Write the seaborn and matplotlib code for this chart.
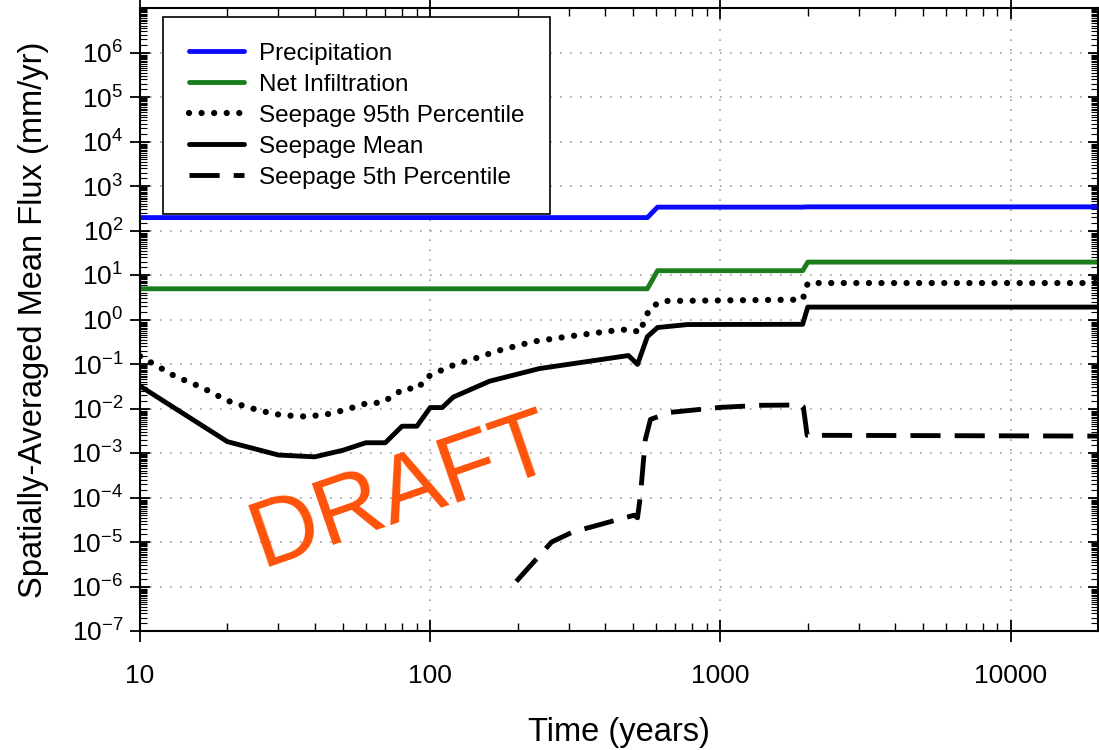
import numpy as np
import pandas as pd
import seaborn as sns
import matplotlib.pyplot as plt
from matplotlib.ticker import LogLocator, FixedLocator, FixedFormatter, NullFormatter

sns.set_style('ticks')
plt.rcParams['font.family'] = ['Liberation Sans', 'DejaVu Sans']
plt.rcParams['mathtext.fontset'] = 'custom'
plt.rcParams['mathtext.rm'] = 'Liberation Sans'
plt.rcParams['mathtext.it'] = 'Liberation Sans:italic'
plt.rcParams['mathtext.bf'] = 'Liberation Sans:bold'
for k in ['text.color', 'axes.labelcolor', 'xtick.color', 'ytick.color']:
    plt.rcParams[k] = 'black'

# values (time in years, flux in mm/yr)
precip_t = [10, 560, 607, 1920, 2000, 20000]
precip_v = [195, 195, 335, 335, 340, 340]

infil_t = [10, 560, 607, 1920, 2000, 20000]
infil_v = [4.9, 4.9, 12.5, 12.5, 19.5, 19.5]

p95_t = [10, 13.2, 16.3, 20, 23.7, 29, 34.6, 38, 45.7, 55.5, 61, 67.6, 73.5, 81,
         90.7, 97, 116, 141, 172, 227, 303, 445, 490, 530, 547, 574, 630,
         1920, 2000, 20000]
p95_v = [0.15, 0.053, 0.03, 0.015, 0.0105, 0.0075, 0.0067, 0.0066, 0.0077, 0.011,
         0.0134, 0.0134, 0.018, 0.028, 0.028, 0.05, 0.087, 0.13, 0.2, 0.32, 0.42,
         0.58, 0.6, 0.51, 1.0, 1.86, 2.6, 2.8, 6.6, 6.6]

mean_t = [10, 20, 30, 40, 50, 60, 70, 80, 90, 100, 110, 120, 160, 238, 482, 518,
          560, 607, 770, 1920, 2000, 20000]
mean_v = [0.032, 0.0018, 0.0009, 0.00082, 0.00115, 0.0017, 0.0017, 0.004, 0.004,
          0.0105, 0.0105, 0.018, 0.041, 0.079, 0.155, 0.098, 0.41, 0.66, 0.77,
          0.78, 1.9, 1.9]

p5_t = [198, 262, 311, 361, 452, 505, 518, 530, 551, 574, 673, 1000, 1380, 1900,
        1930, 1990, 20000]
p5_v = [1.3e-6, 1.0e-5, 1.7e-5, 2.2e-5, 3.3e-5, 4.0e-5, 3.5e-5, 1.1e-4, 2.0e-3,
        5.7e-3, 8.2e-3, 0.0106, 0.0118, 0.012, 0.011, 0.0025, 0.0024]

ytick_vals = [1e-7, 1e-6, 1e-5, 1e-4, 1e-3, 1e-2, 1e-1, 1e0, 1e1, 1e2, 1e3, 1e4, 1e5, 1e6]
ytick_labels = ['$\\mathrm{10^{%d}}$' % e for e in range(-7, 7)]
xtick_vals = [10, 100, 1000, 10000]
xtick_labels = ['10', '100', '1000', '10000']

fig = plt.figure(figsize=(10.99, 7.5), dpi=100)
ax = fig.add_axes([140/1099, 119/750, 958/1099, 623/750])

lw = 3.5
sns.lineplot(x=precip_t, y=precip_v, ax=ax, color='#0a0aff', lw=lw,
             label='Precipitation', estimator=None, sort=False)
sns.lineplot(x=infil_t, y=infil_v, ax=ax, color='#1b7d1b', lw=lw,
             label='Net Infiltration', estimator=None, sort=False)
sns.lineplot(x=p95_t, y=p95_v, ax=ax, color='black', lw=4.5,
             linestyle=(0, (0.01, 2.0)), dash_capstyle='round',
             label='Seepage 95th Percentile', estimator=None, sort=False)
sns.lineplot(x=mean_t, y=mean_v, ax=ax, color='black', lw=lw,
             label='Seepage Mean', estimator=None, sort=False)
sns.lineplot(x=p5_t, y=p5_v, ax=ax, color='black', lw=lw,
             linestyle=(0, (6.2, 2.9)),
             label='Seepage 5th Percentile', estimator=None, sort=False)

ax.set_xscale('log')
ax.set_yscale('log')
ax.set_xlim(10, 20000)
ax.set_ylim(1e-7, 1e7)

ax.xaxis.set_major_locator(FixedLocator(xtick_vals))
ax.xaxis.set_major_formatter(FixedFormatter(xtick_labels))
ax.xaxis.set_minor_locator(LogLocator(base=10, subs=np.arange(2, 10), numticks=50))
ax.xaxis.set_minor_formatter(NullFormatter())
ax.yaxis.set_major_locator(FixedLocator(ytick_vals))
ax.yaxis.set_major_formatter(FixedFormatter(ytick_labels))
ax.yaxis.set_minor_locator(LogLocator(base=10, subs=np.arange(1.5, 10, 0.5), numticks=100))
ax.yaxis.set_minor_formatter(NullFormatter())

for s in ax.spines.values():
    s.set_linewidth(1.5)
    s.set_color('black')

ax.tick_params(axis='x', which='major', direction='inout', length=16, width=1.3,
               top=True, labelsize=19, pad=16)
ax.tick_params(axis='y', which='major', direction='inout', length=14, width=1.3,
               right=True, labelsize=19, pad=5)
ax.tick_params(axis='x', which='minor', direction='in', length=6, width=1, top=True)
ax.tick_params(axis='y', which='minor', direction='in', length=5, width=0.8, right=True)

ax.grid(True, which='major', linestyle=(0, (1, 5)), color='#a0a0a0', lw=1.2)

ax.set_xlabel('Time (years)', fontsize=23.5, labelpad=21)
ax.set_ylabel('Spatially-Averaged Mean Flux (mm/yr)', fontsize=23.5, labelpad=16)

leg = ax.legend(loc='upper left', bbox_to_anchor=(23/958, 1 - 9/623), borderaxespad=0,
                fontsize=17.5, frameon=True, fancybox=False, framealpha=1,
                edgecolor='black', handlelength=2.3, handletextpad=0.6,
                labelspacing=0.37, borderpad=1.05)
leg.get_frame().set_linewidth(1.2)

fig.text(402/1099, 1 - 492/750, 'DRAFT', color='#ff5209', fontsize=68,
         rotation=19, ha='center', va='center', rotation_mode='anchor')

fig.savefig('out.png', dpi=100)
